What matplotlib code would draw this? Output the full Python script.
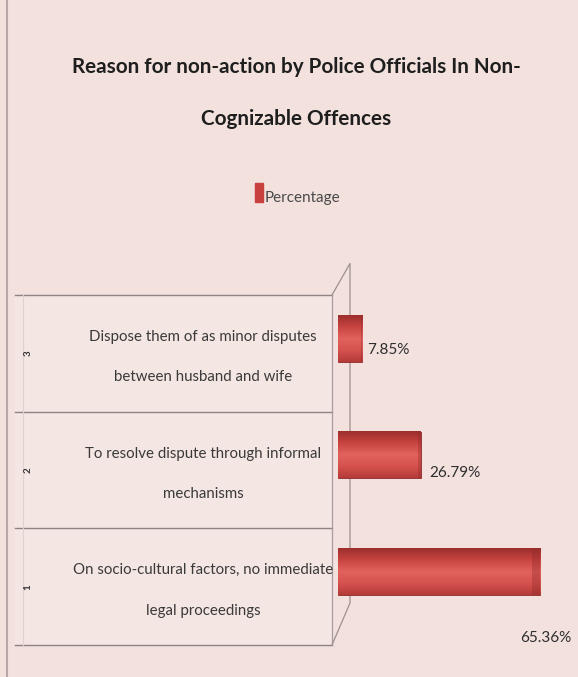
import matplotlib
matplotlib.use('Agg')
import matplotlib.pyplot as plt
import matplotlib.transforms as mtrans
import numpy as np
from matplotlib.colors import LinearSegmentedColormap

# data, top row of the chart first
categories = [
    "Dispose them of as minor disputes\nbetween husband and wife",
    "To resolve dispute through informal\nmechanisms",
    "On socio-cultural factors, no immediate\nlegal proceedings",
]
row_numbers = ["3", "2", "1"]
percentages = [7.85, 26.79, 65.36]
series_name = "Percentage"
title_lines = ["Reason for non-action by Police Officials In Non-",
               "Cognizable Offences"]

BG = '#F2E1DD'
ROW_BG = '#F4E6E3'
LINE = '#8E8282'
FONT = ['Lato', 'DejaVu Sans']

plt.rcParams['font.family'] = FONT

fig = plt.figure(figsize=(5.78, 6.77), dpi=100, facecolor=BG)
W, H = 578, 677

# axes: x=0 at pixel 338, rows from y=295 to y=645 (pixels from top)
ax = fig.add_axes([338 / W, (H - 645) / H, 232 / W, 350 / H])
ax.set_facecolor('none')
ax.set_xlim(0, 75)
ax.set_ylim(-0.5, 2.5)

ypos = np.arange(len(categories))[::-1]  # top row = 2
bar_h = 0.40
shift = 0.13  # bars sit "further back" in the 3d view

cmap = LinearSegmentedColormap.from_list(
    'bar', ['#9C2F2D', '#C84441', '#E2625E', '#D6524F', '#B53B38'])
grad = np.linspace(0, 1, 64).reshape(-1, 1)

for y, v in zip(ypos, percentages):
    yc = y + shift
    bars = ax.barh(yc, v, height=bar_h, color='#D4504C',
                   edgecolor='#8E2A28', linewidth=0.6, zorder=3)
    ax.imshow(grad, cmap=cmap, aspect='auto', zorder=3.5,
              extent=(0, v, yc - bar_h / 2, yc + bar_h / 2),
              clip_path=bars[0], clip_on=True)
    # darker end cap
    ax.barh(yc, v * 0.04, left=v * 0.96, height=bar_h, color='#8E2A28',
            alpha=0.35, linewidth=0, zorder=4)

# value labels (Excel put them at odd places)
label_offsets = [(5, -12), (8, -18), (-20, -66)]
for y, v, off in zip(ypos, percentages, label_offsets):
    ax.annotate(f"{v:.2f}%", (v, y + shift), xytext=off,
                textcoords='offset pixels', ha='left', va='center',
                fontsize=11, color='#2E2E2E', zorder=5)

ax.set_xticks([])
ax.set_yticks(ypos)
ax.set_yticklabels(categories, fontsize=10.8, color='#3A3A3A',
                   linespacing=3.4)
ax.tick_params(axis='y', length=0, pad=135 * 0.72)
nudge = mtrans.ScaledTranslation(0, 11 / 100, fig.dpi_scale_trans)
for lab in ax.get_yticklabels():
    lab.set_ha('center')
    lab.set_transform(lab.get_transform() + nudge)
for s in ax.spines.values():
    s.set_visible(False)

ytr = ax.get_yaxis_transform()


def ax_x(px):
    return (px - 338) / 232


# table rows on the left
ax.fill_between([ax_x(15), ax_x(332)], -0.5, 2.5, color=ROW_BG,
                transform=ytr, clip_on=False, zorder=0)
for b in [-0.5, 0.5, 1.5, 2.5]:
    ax.plot([ax_x(15), ax_x(332)], [b, b], color=LINE, lw=1.0,
            transform=ytr, clip_on=False, zorder=1)
ax.plot([ax_x(23), ax_x(23)], [-0.5, 2.5], color='#E2D2CF', lw=0.8,
        transform=ytr, clip_on=False, zorder=1)

# 3d wall edges
ax.plot([ax_x(332), ax_x(332)], [-0.5, 2.5], color='#A89C9C', lw=0.9,
        transform=ytr, clip_on=False, zorder=1)
ax.plot([ax_x(332), ax_x(350), ax_x(350), ax_x(332)],
        [2.5, 2.77, -0.14, -0.5], color='#9C9090', lw=0.9,
        transform=ytr, clip_on=False, zorder=1)

for y, n in zip(ypos, row_numbers):
    ax.text(ax_x(28), y, n, transform=ytr, rotation=90, fontsize=7,
            fontweight='bold', color='#333333', ha='center', va='center')

# title (two lines placed separately) and legend
for line, base in zip(title_lines, [73, 125]):
    fig.text(296 / W, 1 - base / H, line, ha='center', va='baseline',
             fontsize=14.9, fontweight='bold', color='#1E1E1E')
fig.patches.append(plt.Rectangle((255 / W, 1 - 202 / H), 8 / W, 19 / H,
                                 transform=fig.transFigure,
                                 color='#C9413E'))
fig.text(265 / W, 1 - 202 / H, series_name, ha='left', va='baseline',
         fontsize=11, color='#4A4A4A')

# left frame edge
fig.add_artist(plt.Line2D([7 / W, 7 / W], [0, 1], color='#B8A8A8', lw=1.5,
                          transform=fig.transFigure))

fig.savefig('out.png', dpi=100, facecolor=BG)
